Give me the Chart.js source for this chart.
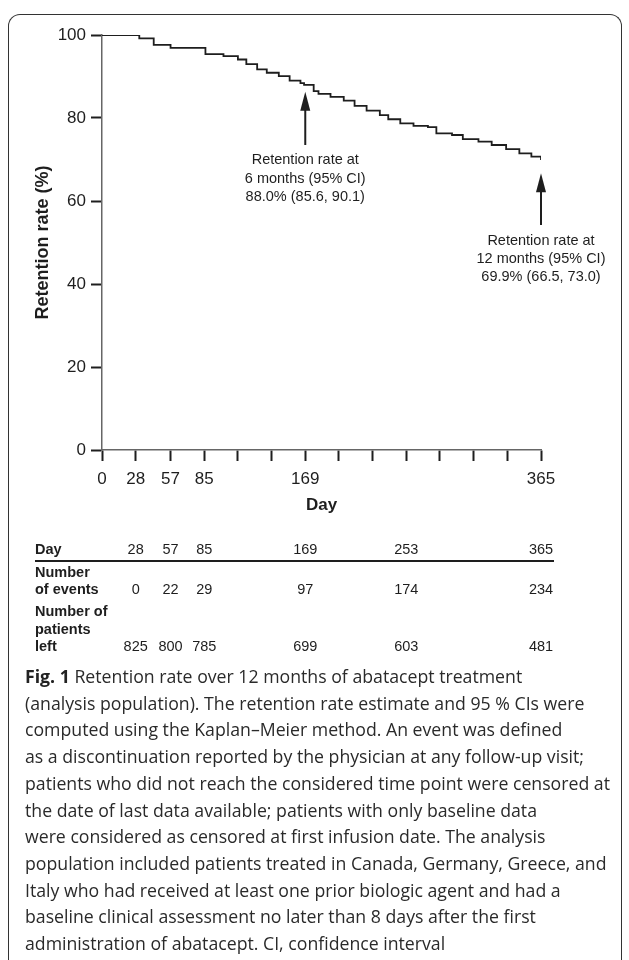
<!DOCTYPE html>
<html>
<head>
<meta charset="utf-8">
<script src="https://cdn.jsdelivr.net/npm/chart.js@4.4.1/dist/chart.umd.min.js"></script>
<style>
  html, body { margin: 0; padding: 0; background: #fff; }
  body { width: 629px; height: 960px; overflow: hidden; position: relative; }
  #frame {
    position: absolute; left: 8px; top: 14px; width: 612px; height: 1000px;
    border: 1.5px solid #333; border-bottom: none; border-radius: 12px 12px 0 0;
  }
  #chartBox { position: absolute; left: 0; top: 0; width: 629px; height: 670px; }
  #caption {
    position: absolute; left: 25px; top: 663px; white-space: nowrap;
    font-family: "Open Sans", Lato, sans-serif; font-size: 17.7px; line-height: 26.7px;
    color: #2a2a2a;
  }
  #caption b { font-weight: 700; color: #222; }
</style>
</head>
<body>
<div id="frame"></div>
<div id="chartBox"><canvas id="retentionChart" width="629" height="670"></canvas></div>
<div id="caption">
<b>Fig. 1</b> Retention rate over 12 months of abatacept treatment<br>
(analysis population). The retention rate estimate and 95 % CIs were<br>
computed using the Kaplan–Meier method. An event was defined<br>
as a discontinuation reported by the physician at any follow-up visit;<br>
patients who did not reach the considered time point were censored at<br>
the date of last data available; patients with only baseline data<br>
were considered as censored at first infusion date. The analysis<br>
population included patients treated in Canada, Germany, Greece, and<br>
Italy who had received at least one prior biologic agent and had a<br>
baseline clinical assessment no later than 8 days after the first<br>
administration of abatacept. CI, confidence interval
</div>
<script>
// --- data ---
const kmDays = [0, 31, 43, 57, 86, 101, 113, 120, 129, 137, 147, 156, 165, 168, 176, 180, 190, 201, 210, 220,
                231, 238, 248, 259, 271, 278, 291, 300, 313, 324, 336, 347, 357, 365];
const kmRetention = [100, 99.2, 97.6, 96.9, 95.4, 94.9, 94.1, 93.0, 91.7, 90.9, 90.1, 89.0, 88.4, 88.0, 86.5, 85.8, 85.1, 84.2, 82.9, 81.8,
                     80.7, 79.7, 78.7, 78.1, 77.8, 76.3, 75.9, 74.9, 74.3, 73.5, 72.5, 71.5, 70.7, 69.9];

const xTickDays = [0, 28, 57, 85, 113, 141, 169, 197, 225, 253, 281, 309, 337, 365];
const xLabelDays = [0, 28, 57, 85, 169, 365];

const tableDays = [28, 57, 85, 169, 253, 365];
const eventCounts = [0, 22, 29, 97, 174, 234];
const patientsLeft = [825, 800, 785, 699, 603, 481];

const noteDays = [169, 365];
const noteTail = [73.5, 54.2];
const noteTip = [86.3, 66.7];
const noteLines = [
    ['Retention rate at', '6 months (95% CI)', '88.0% (85.6, 90.1)'],
    ['Retention rate at', '12 months (95% CI)', '69.9% (66.5, 73.0)']
];

const ink = '#1e1e1e';
const font = '"Liberation Sans", Arial, Helvetica, sans-serif';

// arrows, notes and the at-risk table, placed with the chart's own scales
const extrasPlugin = {
    id: 'extras',
    afterDraw(chart) {
        const { ctx } = chart;
        const x = chart.scales.x, y = chart.scales.y;
        ctx.save();
        ctx.fillStyle = ink;
        ctx.strokeStyle = ink;

        noteDays.forEach((d, i) => {
            const px = x.getPixelForValue(d);
            const tail = y.getPixelForValue(noteTail[i]);
            const tip = y.getPixelForValue(noteTip[i]);
            ctx.lineWidth = 2;
            ctx.beginPath();
            ctx.moveTo(px, tail);
            ctx.lineTo(px, tip + 14);
            ctx.stroke();
            ctx.beginPath();
            ctx.moveTo(px, tip);
            ctx.lineTo(px - 5, tip + 19);
            ctx.lineTo(px + 5, tip + 19);
            ctx.closePath();
            ctx.fill();

            ctx.font = `14.5px ${font}`;
            ctx.textAlign = 'center';
            ctx.textBaseline = 'middle';
            noteLines[i].forEach((t, j) => ctx.fillText(t, px, tail + 15.5 + j * 18.3));
        });

        // table
        ctx.textBaseline = 'middle';
        ctx.font = `bold 14.5px ${font}`;
        ctx.textAlign = 'left';
        ctx.fillText('Day', 35, 550);
        ctx.fillText('Number', 35, 573);
        ctx.fillText('of events', 35, 590);
        ctx.fillText('Number of', 35, 612);
        ctx.fillText('patients', 35, 630);
        ctx.fillText('left', 35, 647);

        ctx.lineWidth = 2;
        ctx.beginPath();
        ctx.moveTo(35, 561);
        ctx.lineTo(554, 561);
        ctx.stroke();

        ctx.font = `14.5px ${font}`;
        ctx.textAlign = 'center';
        tableDays.forEach((d, i) => {
            const px = x.getPixelForValue(d);
            ctx.fillText(String(d), px, 550);
            ctx.fillText(String(eventCounts[i]), px, 590);
            ctx.fillText(String(patientsLeft[i]), px, 647);
        });
        ctx.restore();
    }
};

const ctx = document.getElementById('retentionChart').getContext('2d');
new Chart(ctx, {
    type: 'line',
    data: {
        datasets: [{
            label: 'Retention rate',
            data: kmDays.map((d, i) => ({ x: d, y: kmRetention[i] })),
            borderColor: ink,
            borderWidth: 1.8,
            stepped: 'before',
            pointRadius: 0,
            fill: false
        }]
    },
    options: {
        responsive: false, maintainAspectRatio: false, animation: false,
        layout: { padding: { left: 0, top: 35, right: 88, bottom: 150 } },
        plugins: { legend: { display: false }, tooltip: { enabled: false } },
        scales: {
            x: {
                type: 'linear', min: 0, max: 365,
                afterBuildTicks: s => { s.ticks = xTickDays.map(v => ({ value: v })); },
                afterFit: s => { s.height = 70; },
                grid: { display: true, drawOnChartArea: false, drawTicks: true, tickLength: 11, tickColor: ink, tickWidth: 2 },
                border: { display: true, color: '#666', width: 1.5 },
                ticks: {
                    autoSkip: false, maxRotation: 0, padding: 8, color: ink,
                    font: { family: font, size: 17 },
                    callback: v => xLabelDays.includes(v) ? String(v) : ''
                },
                title: { display: true, text: 'Day', color: ink, padding: { top: 0, bottom: 4 }, font: { family: font, size: 17, weight: 'bold' } }
            },
            y: {
                min: 0, max: 100,
                afterFit: s => { s.width = 102; },
                grid: { display: true, drawOnChartArea: false, drawTicks: true, tickLength: 11, tickColor: ink, tickWidth: 2 },
                border: { display: true, color: '#666', width: 1.5 },
                ticks: { stepSize: 20, padding: 5, color: ink, font: { family: font, size: 17 } },
                title: { display: true, text: 'Retention rate (%)', color: ink, padding: { top: 32, bottom: 0 }, font: { family: font, size: 18, weight: 'bold' } }
            }
        }
    },
    plugins: [extrasPlugin]
});
</script>
</body>
</html>
